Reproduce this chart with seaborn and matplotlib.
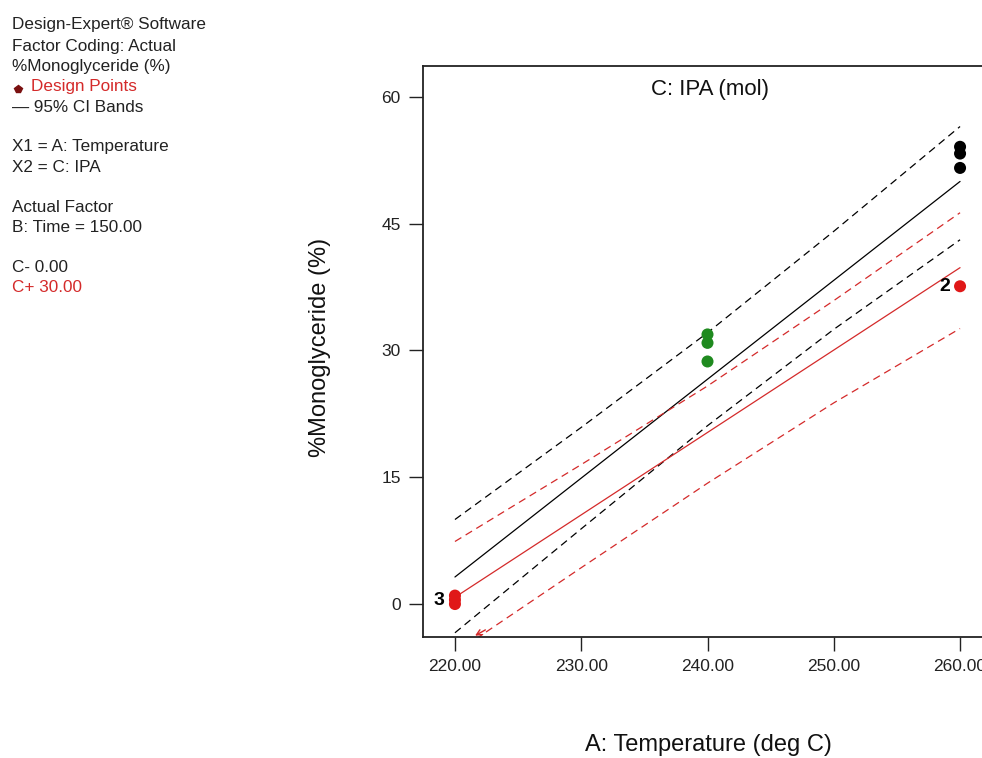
import matplotlib
matplotlib.use("Agg")
import matplotlib.pyplot as plt
import seaborn as sns
import pandas as pd
from matplotlib.lines import Line2D

# ---- data ----
temp_grid = [220, 230, 240, 250, 260]
black_fit = [3.2, 14.9, 26.6, 38.3, 50.0]
black_upper = [10.0, 20.9, 32.1, 44.1, 56.5]
black_lower = [-3.4, 8.9, 21.1, 32.5, 43.1]
red_fit = [0.8, 10.55, 20.3, 30.05, 39.8]
red_upper = [7.4, 16.5, 25.8, 35.9, 46.3]
red_lower = [-5.8, 4.3, 14.3, 23.8, 32.6]

pts_temp = [220, 220, 220, 240, 240, 240, 260, 260, 260, 260]
pts_val = [0.0, 0.5, 1.0, 31.9, 30.9, 28.7, 54.1, 53.3, 51.6, 37.6]
pts_group = ["C+", "C+", "C+", "center", "center", "center", "C-", "C-", "C-", "C+"]

x_ticks = [220, 230, 240, 250, 260]
y_ticks = [0, 15, 30, 45, 60]

sns.set_style("white")
plt.rcParams["font.family"] = ["Liberation Sans", "DejaVu Sans"]

RED = "#d42a2a"
GREEN = "#1f8a1f"

fig = plt.figure(figsize=(9.82, 7.58), dpi=100)
ax = fig.add_axes([423 / 982, 121 / 758, 569 / 982, 571 / 758])

dash = (0, (6, 4))
sns.lineplot(x=temp_grid, y=black_fit, ax=ax, color="black", lw=0.9, estimator=None)
sns.lineplot(x=temp_grid, y=black_upper, ax=ax, color="black", lw=0.9, linestyle=dash, estimator=None)
sns.lineplot(x=temp_grid, y=black_lower, ax=ax, color="black", lw=0.9, linestyle=dash, estimator=None)
sns.lineplot(x=temp_grid, y=red_fit, ax=ax, color=RED, lw=0.9, estimator=None)
sns.lineplot(x=temp_grid, y=red_upper, ax=ax, color=RED, lw=0.9, linestyle=dash, estimator=None)
sns.lineplot(x=temp_grid, y=red_lower, ax=ax, color=RED, lw=0.9, linestyle=dash, estimator=None)

pts = pd.DataFrame({"temp": pts_temp, "val": pts_val, "grp": pts_group})
sns.scatterplot(data=pts, x="temp", y="val", hue="grp",
                palette={"C+": "#e01818", "center": GREEN, "C-": "black"},
                s=75, edgecolor="none", legend=False, ax=ax, zorder=5)

# replicate labels
ax.text(219.2, 0.4, "3", ha="right", va="center", fontsize=14, fontweight="bold", color="black")
ax.text(259.2, 37.6, "2", ha="right", va="center", fontsize=14, fontweight="bold", color="black")

# arrow for band leaving the plot
ax.annotate("", xy=(221.4, -3.9), xytext=(222.6, -2.9),
            arrowprops=dict(arrowstyle="->", color=RED, lw=1.0), annotation_clip=False)

ax.set_xlim(217.47, 262.53)
ax.set_ylim(-3.9, 63.66)
ax.set_xticks(x_ticks)
ax.set_xticklabels([f"{v:.2f}" for v in x_ticks])
ax.set_yticks(y_ticks)
ax.set_yticklabels([str(v) for v in y_ticks])
ax.tick_params(axis="both", direction="out", length=10, width=1.0, color="#222222",
               labelsize=12.5, pad=6, bottom=True, left=True, labelcolor="#222222")
for sp in ax.spines.values():
    sp.set_color("#222222")
    sp.set_linewidth(1.3)

ax.set_xlabel("")
ax.set_ylabel("")
fig.text(708 / 982, 1 - 745 / 758, "A: Temperature (deg C)", ha="center", va="center",
         fontsize=17, color="#111111")
fig.text(320 / 982, 1 - 347 / 758, "%Monoglyceride (%)", ha="center", va="center",
         rotation=90, fontsize=17, color="#111111")
fig.text(710 / 982, 1 - 90 / 758, "C: IPA (mol)", ha="center", va="center",
         fontsize=16, color="#111111")

# left info panel
def ftxt(x, y, s, color="#222222"):
    fig.text(x / 982, 1 - y / 758, s, ha="left", va="center", fontsize=12.3, color=color)

ftxt(12, 25, "Design-Expert® Software")
ftxt(12, 46, "Factor Coding: Actual")
ftxt(12, 66, "%Monoglyceride (%)")
ftxt(31, 87, "Design Points", color=RED)
fig.add_artist(Line2D([18 / 982], [1 - 89 / 758], marker="p", markersize=6,
                      color="#7a1010", transform=fig.transFigure))
ftxt(12, 107, "— 95% CI Bands")
ftxt(12, 147, "X1 = A: Temperature")
ftxt(12, 167, "X2 = C: IPA")
ftxt(12, 207, "Actual Factor")
ftxt(12, 227, "B: Time = 150.00")
ftxt(12, 267, "C- 0.00")
ftxt(12, 287, "C+ 30.00", color=RED)

fig.savefig("out.png", dpi=100)
